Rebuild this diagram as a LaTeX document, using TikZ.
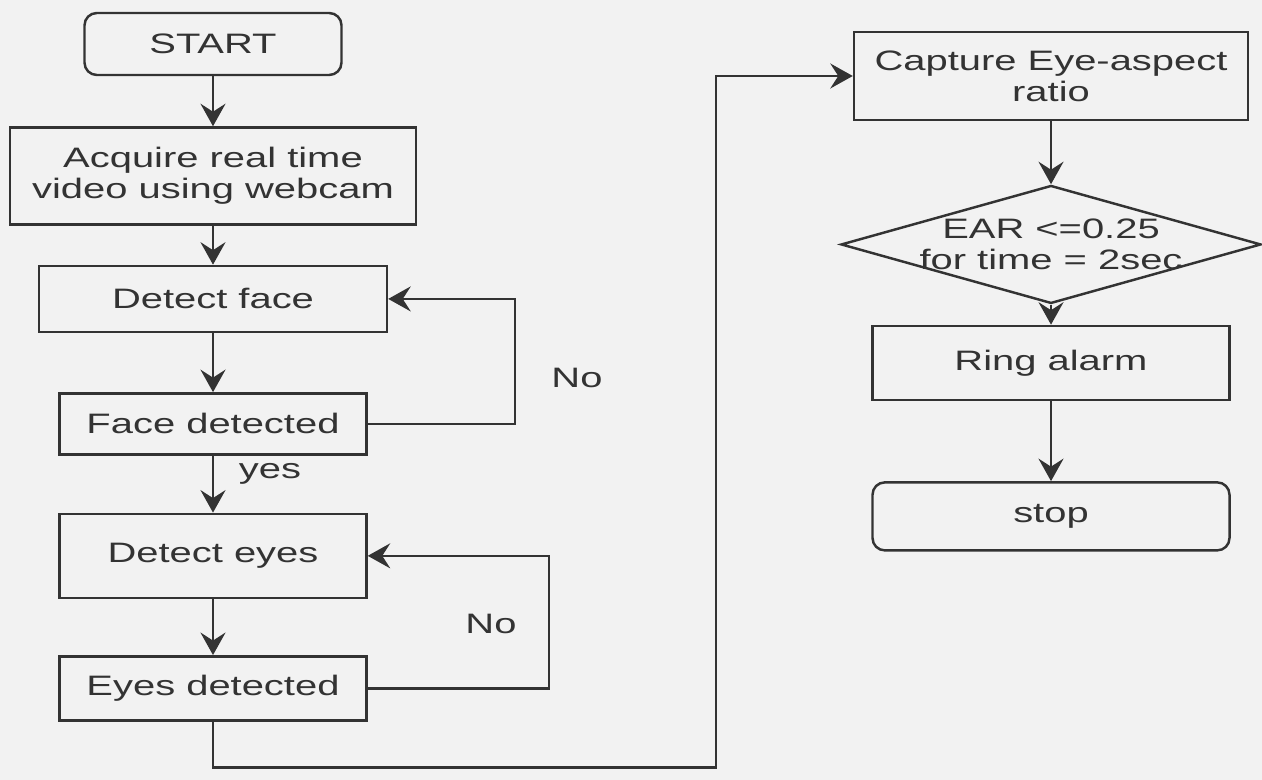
\documentclass[tikz,border=0pt]{standalone}
\usepackage{fontspec}
\setmainfont{Liberation Sans}[FakeStretch=1.42]
\usetikzlibrary{positioning, arrows.meta, shapes.geometric}

\begin{document}
\begin{tikzpicture}[
    node distance=1cm,
    font=\fontsize{16}{17.5}\selectfont,
    box/.style={draw=black!80, line width=1.4pt, align=center, text=black!80, inner sep=2pt},
    term/.style={box, rounded corners=7pt},
    dec/.style={box, diamond, aspect=3.56, inner sep=-3pt, minimum width=8.4cm, minimum height=2.36cm},
    arr/.style={-{Stealth[length=0.45cm, width=0.5cm, inset=0.16cm]}, draw=black!80, line width=1.4pt},
    lbl/.style={text=black!80}]
    \fill[black!5] (0,0) rectangle (25.24,-15.6);
    \useasboundingbox (0,0) rectangle (25.24,-15.6);
    \node[term, minimum width=5.14cm, minimum height=1.24cm] (start) at (4.26,-0.88) {START};
    \node[box, minimum width=8.12cm, minimum height=1.94cm, below=1cm of start] (acq) {Acquire real time\\video using webcam};
    \node[box, minimum width=6.96cm, minimum height=1.32cm, below=0.78cm of acq] (detface) {Detect face};
    \node[box, minimum width=6.14cm, minimum height=1.22cm, below=1.18cm of detface] (facedet) {Face detected};
    \node[box, minimum width=6.14cm, minimum height=1.68cm, below=1.14cm of facedet] (deteyes) {Detect eyes};
    \node[box, minimum width=6.14cm, minimum height=1.28cm, below=1.12cm of deteyes] (eyesdet) {Eyes detected};
    \node[box, minimum width=7.88cm, minimum height=1.76cm] (capture) at (21.02,-1.52) {Capture Eye-aspect\\ratio};
    \node[dec, below=1.26cm of capture] (ear) {EAR <=0.25\\for time = 2sec};
    \node[box, minimum width=7.14cm, minimum height=1.48cm, below=0.4cm of ear] (ring) {Ring alarm};
    \node[term, minimum width=7.14cm, minimum height=1.36cm, below=1.6cm of ring] (stop) {stop};
    \draw[arr] (start) -- (acq);
    \draw[arr] (acq) -- (detface);
    \draw[arr] (detface) -- (facedet);
    \draw[arr] (facedet) -- (deteyes);
    \draw[arr] (deteyes) -- (eyesdet);
    \draw[arr] (facedet.east) -- ++(2.95,0) |- (detface.east);
    \draw[arr] (eyesdet.east) -- ++(3.62,0) |- (deteyes.east);
    \coordinate (turn) at (14.32,-15.35);
    \draw[arr] (eyesdet.south) |- (turn) |- (capture.west);
    \draw[arr] (capture) -- (ear);
    \draw[arr] (ear) -- (ring);
    \draw[arr] (ring) -- (stop);
    \node[lbl] (no1) at (11.54,-7.56) {No};
    \node[lbl] (no2) at (9.82,-12.48) {No};
    \node[lbl] (yes) at (5.4,-9.48) {yes};
  \end{tikzpicture}
\end{document}
